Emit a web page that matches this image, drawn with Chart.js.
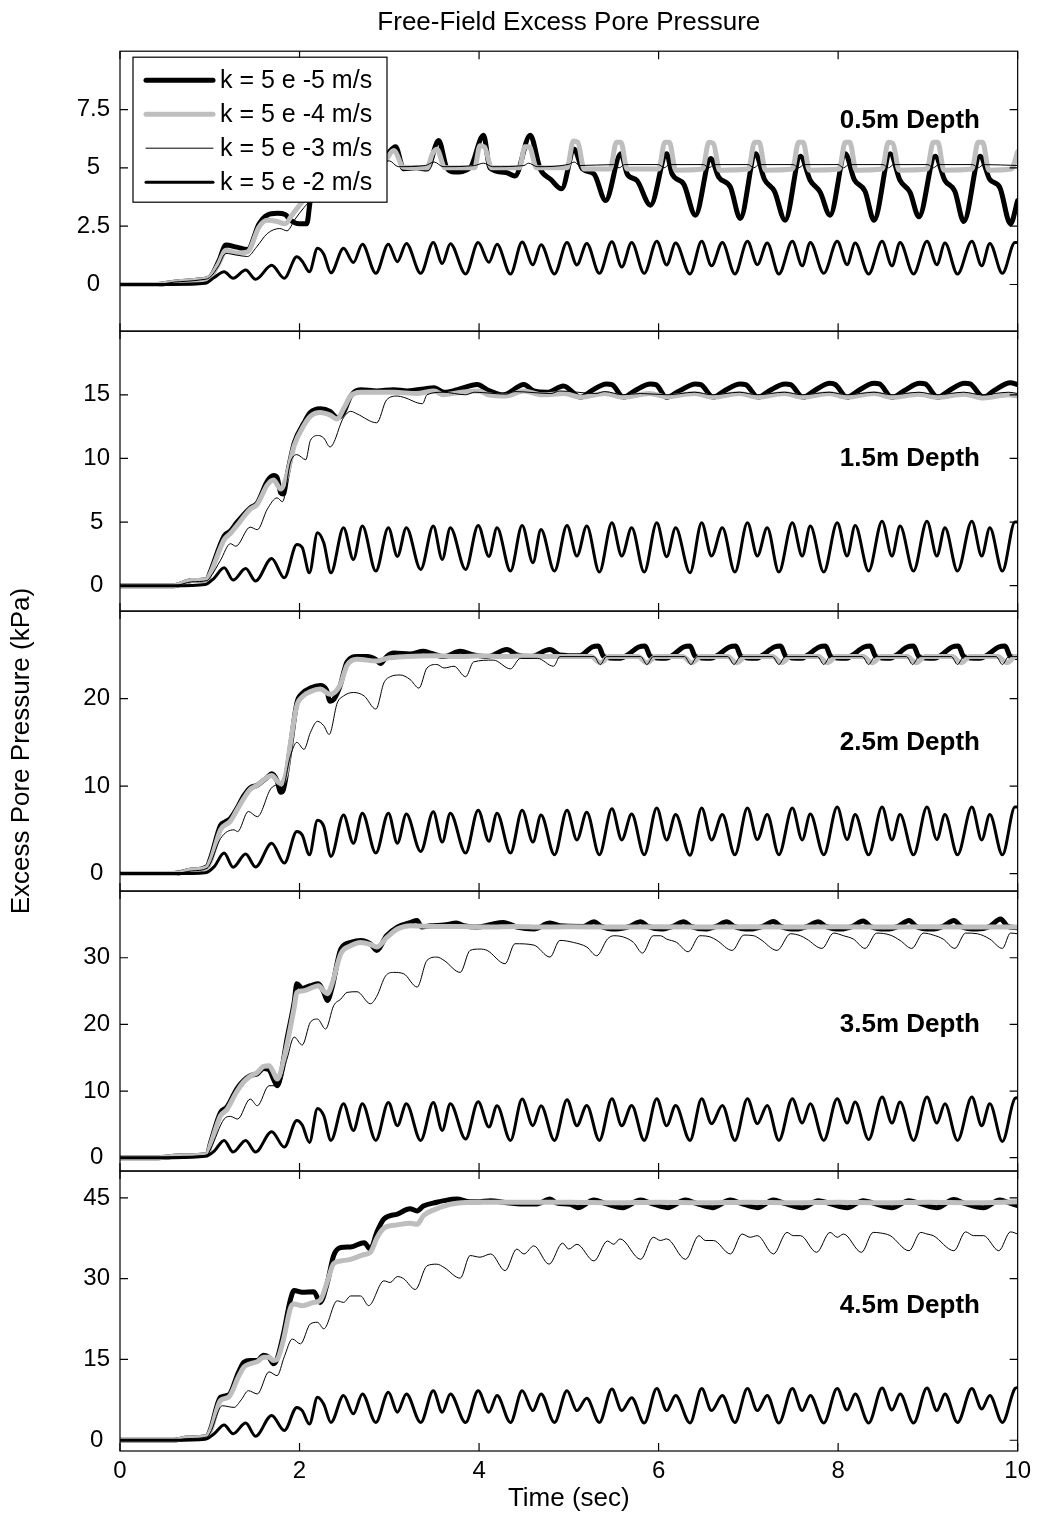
<!DOCTYPE html>
<html>
<head>
<meta charset="utf-8">
<title>Free-Field Excess Pore Pressure</title>
<script src="https://cdn.jsdelivr.net/npm/chart.js@4.4.1/dist/chart.umd.min.js"></script>
<style>
  html, body { margin: 0; padding: 0; background: #fff; }
  canvas { display: block; }
</style>
</head>
<body>
<canvas id="poreChart" width="1037" height="1521"></canvas>
<script>
// ---- data (time in s, pressure in kPa) ----

const depthLabels = ["0.5m Depth", "1.5m Depth", "2.5m Depth", "3.5m Depth", "4.5m Depth"];
const depthLabelTime = 8.8;
const depthLabelLevel = [7, 10, 15, 20, 25];

const yRanges = [[-2, 10], [-2, 20], [-2, 30], [-2, 40], [-2, 50]];
const yTicks = [[0, 2.5, 5, 7.5], [0, 5, 10, 15], [0, 10, 20], [0, 10, 20, 30], [0, 15, 30, 45]];
const xTicks = [0, 2, 4, 6, 8, 10];

const seriesLabels = ["k = 5 e -5 m/s", "k = 5 e -4 m/s", "k = 5 e -3 m/s", "k = 5 e -2 m/s"];

// time samples shared by the k = 5e-2 traces
const timeK2 = [
  0, 0.6, 0.95, 1.05, 1.16, 1.26, 1.40, 1.51, 1.69, 1.83, 1.97, 2.03, 2.11, 2.20, 2.27, 2.35,
  2.49, 2.60, 2.70, 2.85,
  2.99, 3.09, 3.19, 3.35,
  3.49, 3.59, 3.68, 3.85,
  3.99, 4.11, 4.20, 4.35,
  4.48, 4.60, 4.69, 4.84,
  4.98, 5.09, 5.20, 5.34,
  5.48, 5.59, 5.70, 5.84,
  5.98, 6.09, 6.19, 6.35,
  6.48, 6.59, 6.71, 6.85,
  6.99, 7.10, 7.21, 7.34,
  7.49, 7.60, 7.69, 7.84,
  7.99, 8.10, 8.19, 8.34,
  8.49, 8.60, 8.69, 8.84,
  8.99, 9.10, 9.19, 9.33,
  9.49, 9.60, 9.69, 9.83,
  9.97, 10.0
];

const k2_05 = [
  0, 0, 0.05, 0.3, 0.55, 0.27, 0.62, 0.22, 0.82, 0.27, 1.19, 1.0, 0.55, 1.55, 1.3, 0.5,
  1.55, 0.94, 1.73, 0.48,
  1.73, 0.98, 1.76, 0.48,
  1.8, 0.9, 1.75, 0.45,
  1.8, 0.95, 1.72, 0.45,
  1.82, 0.85, 1.7, 0.45,
  1.8, 0.84, 1.76, 0.48,
  1.83, 0.75, 1.8, 0.48,
  1.85, 0.84, 1.78, 0.45,
  1.85, 0.8, 1.8, 0.45,
  1.85, 0.85, 1.78, 0.45,
  1.85, 0.8, 1.8, 0.48,
  1.85, 0.85, 1.78, 0.45,
  1.85, 0.8, 1.8, 0.45,
  1.85, 0.85, 1.78, 0.45,
  1.85, 0.8, 1.76, 0.48,
  1.8, 1.8
];

const k2_15 = [
  0, 0, 0.1, 0.6, 1.41, 0.44, 1.35, 0.36, 2.14, 0.62, 3.24, 3.0, 1.01, 4.16, 3.37, 1.01,
  4.55, 2.06, 4.68, 1.15,
  4.55, 2.3, 4.55, 1.28,
  4.68, 2.06, 4.55, 1.28,
  4.73, 2.3, 4.55, 1.15,
  4.73, 1.8, 4.42, 1.15,
  4.73, 2.33, 4.68, 1.07,
  4.94, 2.33, 4.55, 1.07,
  4.94, 2.28, 4.55, 1.02,
  4.94, 2.33, 4.55, 1.07,
  4.94, 2.33, 4.55, 1.07,
  4.94, 2.33, 4.68, 1.07,
  4.94, 2.33, 4.73, 1.15,
  5.07, 2.33, 4.68, 1.15,
  5.07, 2.33, 4.55, 1.15,
  5.07, 2.33, 4.55, 1.15,
  5.0, 5.0
];

const k2_25 = [
  0, 0, 0.1, 0.8, 2.34, 0.72, 2.23, 0.75, 3.47, 1.2, 4.8, 4.4, 2.15, 6.1, 5.4, 1.96,
  6.7, 3.47, 6.9, 2.34,
  6.9, 3.47, 6.8, 2.53,
  7.06, 3.6, 6.9, 2.34,
  7.25, 3.7, 6.9, 2.34,
  7.25, 3.6, 6.7, 2.15,
  7.25, 3.85, 7.0, 2.15,
  7.4, 3.85, 6.8, 2.15,
  7.5, 3.85, 6.75, 2.1,
  7.5, 3.85, 6.75, 2.15,
  7.5, 3.9, 6.75, 2.15,
  7.5, 3.85, 6.8, 2.15,
  7.6, 3.9, 6.75, 2.15,
  7.6, 3.85, 6.75, 2.15,
  7.6, 3.9, 6.75, 2.15,
  7.6, 3.85, 6.75, 2.15,
  7.6, 7.6
];

const k2_35 = [
  0, 0, 0.2, 1.0, 2.6, 0.85, 2.6, 0.85, 3.9, 1.6, 5.6, 4.9, 2.3, 7.4, 6.3, 2.6,
  8.1, 4.1, 8.1, 2.6,
  8.3, 4.8, 8.1, 2.6,
  8.3, 4.1, 8.1, 2.8,
  8.4, 4.6, 7.8, 2.6,
  8.8, 4.8, 7.8, 2.6,
  8.7, 4.8, 7.85, 2.6,
  8.84, 4.8, 7.84, 2.6,
  8.84, 4.8, 7.84, 2.6,
  8.84, 5.1, 7.84, 2.6,
  8.84, 5.1, 7.84, 2.6,
  8.84, 5.2, 8.1, 2.6,
  8.84, 5.2, 8.34, 2.75,
  9.1, 5.2, 8.34, 2.6,
  9.1, 5.2, 8.1, 2.6,
  9.1, 4.8, 8.1, 2.45,
  8.9, 9.0
];

const k2_45 = [
  0, 0, 0.2, 1.2, 2.85, 1.2, 3.2, 0.75, 4.6, 1.8, 6.1, 5.5, 3.0, 8.0, 6.7, 3.3,
  8.3, 4.9, 8.6, 3.3,
  8.9, 5.2, 8.6, 3.3,
  9.2, 5.2, 8.6, 3.3,
  9.2, 5.2, 8.3, 3.3,
  9.2, 5.5, 8.6, 3.3,
  9.2, 5.5, 7.8, 3.3,
  9.5, 5.5, 7.9, 3.2,
  9.6, 5.5, 8.3, 3.2,
  9.6, 5.5, 8.3, 3.3,
  9.6, 5.5, 8.3, 3.2,
  9.6, 5.5, 8.3, 3.2,
  9.6, 5.6, 8.6, 3.2,
  9.7, 5.6, 8.6, 3.2,
  9.7, 5.5, 8.6, 3.3,
  9.6, 5.8, 8.3, 3.3,
  9.6, 9.8
];

// [time, pressure] pairs for the other permeabilities
const k5_05 = [[0,0],[0.4,0],[0.6,0.1],[0.9,0.2],[1.0,0.3],[1.1,1.0],[1.18,1.69],[1.3,1.6],[1.42,1.5],[1.55,2.6],[1.64,2.97],[1.75,3.05],[1.84,3.0],[1.9,2.75],[2.0,2.6],[2.08,2.6],[2.12,3.6],[2.2,4.8],[2.35,5.3],[2.6,5.1],[2.85,5.0],[2.98,5.6],[3.07,5.9],[3.16,4.96],[3.3,5.0],[3.42,4.95],[3.55,6.17],[3.64,5.0],[3.73,4.82],[3.9,5.0],[4.05,6.4],[4.12,5.0],[4.3,4.8],[4.4,4.65],[4.57,6.4],[4.68,4.96],[4.8,4.5],[4.92,4.1],[5.06,5.8],[5.15,4.96],[5.28,4.74],[5.41,3.6],
  [5.58,5.6],[5.65,4.74],[5.76,4.45],[5.91,3.4],
  [6.09,5.6],[6.15,4.74],[6.28,4.3],[6.41,2.97],
  [6.58,5.4],[6.67,4.6],[6.80,4.17],[6.91,2.83],
  [7.08,5.6],[7.18,4.5],[7.29,4.0],[7.41,2.75],
  [7.58,5.5],[7.69,4.46],[7.80,3.96],[7.91,2.97],
  [8.08,5.6],[8.18,4.5],[8.30,4.0],[8.40,2.75],
  [8.58,5.6],[8.69,4.46],[8.80,3.96],[8.90,2.9],
  [9.08,5.5],[9.19,4.46],[9.30,4.0],[9.40,2.7],
  [9.58,5.5],[9.69,4.5],[9.80,4.17],[9.92,2.6],
  [10.0,3.6]];

const k4_05 = [[0,0],[0.4,0],[0.6,0.1],[0.9,0.2],[1.0,0.3],[1.1,0.9],[1.18,1.47],[1.3,1.35],[1.42,1.4],[1.55,2.47],[1.64,2.75],[1.75,2.7],[1.84,2.6],[1.92,3.0],[2.0,3.4],[2.08,3.8],[2.2,4.5],[2.4,5.0],[2.7,5.1],[2.95,5.3],[3.05,5.74],[3.16,5.03],[3.42,5.0],[3.48,5.6],[3.53,5.8],[3.62,5.0],[3.95,5.0],[4.01,5.95],[4.06,5.9],[4.14,5.0],[4.45,5.0],[4.51,5.9],[4.56,5.9],[4.64,5.0],
  [4.98,5.0],[5.05,6.15],[5.1,6.1],[5.17,4.95],[5.46,4.95],[5.53,6.1],[5.58,6.1],[5.65,4.95],[6.0,4.95],[6.07,6.1],[6.12,6.1],[6.19,4.9],[6.49,4.95],[6.56,6.1],[6.61,6.05],[6.68,4.9],[7.0,4.95],[7.07,6.1],[7.12,6.1],[7.19,4.9],[7.49,4.95],[7.56,6.1],[7.61,6.1],[7.68,4.9],[8.01,4.95],[8.08,6.1],[8.13,6.1],[8.2,4.9],[8.49,4.95],[8.56,6.1],[8.61,6.05],[8.68,4.9],[8.99,4.95],[9.06,6.1],[9.11,6.1],[9.18,4.9],[9.49,4.95],[9.56,6.1],[9.61,6.1],[9.68,4.9],[9.93,4.95],[10.0,5.7]];

const k3_05 = [[0,0],[0.4,0],[0.6,0.1],[0.9,0.2],[1.0,0.3],[1.1,0.8],[1.18,1.33],[1.3,1.26],[1.42,1.2],[1.52,1.6],[1.64,2.18],[1.78,2.4],[1.86,2.3],[1.95,2.8],[2.05,3.3],[2.12,3.6],[2.3,4.4],[2.5,4.8],[2.8,5.0],[3.0,5.3],[3.1,5.05],[3.4,5.1],[3.5,5.25],[3.6,5.05],[3.95,5.1],[4.05,5.2],[4.15,5.05],[4.5,5.1],[4.55,5.2],[4.65,5.05],[5.0,5.15],[5.06,5.25],[5.12,5.1],[5.5,5.14],[5.56,5.0],[5.62,5.14],[6.0,5.14],[6.06,5.0],[6.12,5.14],[6.5,5.14],[6.56,5.0],[6.62,5.14],[7.0,5.14],[7.06,5.0],[7.12,5.14],[7.5,5.14],[7.56,5.0],[7.62,5.14],[8.0,5.14],[8.06,5.0],[8.12,5.14],[8.5,5.14],[8.56,5.0],[8.62,5.14],[9.0,5.14],[9.06,5.0],[9.12,5.14],[9.5,5.14],[9.56,5.0],[9.62,5.14],[10.0,5.1]];

const k5_15 = [[0,0],[0.6,0],[0.8,0.4],[0.97,0.5],[1.01,1.15],[1.16,3.9],[1.23,4.3],[1.3,4.95],[1.45,6.1],[1.53,6.5],[1.64,8.2],[1.71,8.65],[1.75,8.5],[1.79,7.3],[1.82,7.2],[1.86,8.6],[1.94,11.2],[2.05,12.8],[2.12,13.6],[2.23,13.9],[2.34,13.7],[2.42,13.2],[2.49,13.6],[2.57,14.9],[2.68,15.4],[2.86,15.3],[3.05,15.4],[3.2,15.3],[3.42,15.5],[3.5,15.55],[3.61,15.2],[3.76,15.4],[3.98,15.8],[4.09,15.4],[4.27,15.0],[4.5,15.8],[4.61,15.3],[4.76,15.2],[4.94,15.7],
  [5.13,14.8],[5.25,15.3],[5.42,15.85],[5.48,15.8],[5.61,14.8],[5.73,15.3],[5.91,15.85],[5.97,15.8],[6.09,14.8],[6.23,15.3],[6.41,15.85],[6.47,15.8],[6.61,14.8],[6.73,15.3],[6.91,15.85],[6.97,15.8],[7.11,14.8],[7.23,15.3],[7.41,15.85],[7.47,15.8],[7.61,14.8],[7.73,15.3],[7.91,15.9],[7.97,15.8],[8.10,14.8],[8.22,15.3],[8.40,15.9],[8.46,15.85],[8.60,14.8],[8.73,15.3],[8.91,15.9],[8.97,15.85],[9.11,14.8],[9.23,15.3],[9.41,15.9],[9.47,15.85],[9.62,14.8],[9.74,15.35],[9.92,15.95],[10.0,15.8]];

const k4_15 = [[0,0],[0.6,0],[0.8,0.4],[0.97,0.5],[1.01,1.0],[1.16,3.6],[1.23,4.1],[1.3,4.7],[1.45,6.0],[1.53,6.4],[1.64,7.9],[1.71,8.3],[1.79,7.6],[1.86,8.7],[1.94,11.0],[2.05,12.6],[2.12,13.3],[2.23,13.6],[2.34,13.4],[2.42,13.1],[2.49,13.9],[2.57,14.9],[2.68,15.2],[2.86,15.2],[3.05,15.2],[3.3,15.1],[3.5,15.3],[3.6,15.0],[3.8,15.2],[4.0,15.3],[4.1,15.0],[4.3,14.9],[4.5,15.3],[4.7,15.0],[4.95,15.1],[5.13,14.8],[5.4,15.1],[5.61,14.8],[5.9,15.1],[6.09,14.85],[6.4,15.1],[6.61,14.8],[6.9,15.1],[7.11,14.8],[7.4,15.1],[7.61,14.8],[7.9,15.1],[8.10,14.8],[8.4,15.1],[8.60,14.8],[8.9,15.05],[9.11,14.8],[9.4,15.05],[9.62,14.75],[9.9,15.0],[10.0,14.9]];

const k3_15 = [[0,0],[0.6,0],[0.8,0.3],[0.97,0.4],[1.01,0.7],[1.12,2.0],[1.23,3.3],[1.29,3.1],[1.45,4.6],[1.53,4.4],[1.64,6.0],[1.75,6.9],[1.81,6.6],[1.9,9.7],[1.97,10.3],[2.07,9.9],[2.12,11.4],[2.21,11.8],[2.27,11.6],[2.34,10.9],[2.49,13.2],[2.57,13.7],[2.64,13.5],[2.86,12.8],[2.97,14.6],[3.09,14.9],[3.16,14.8],[3.37,14.3],[3.42,15.0],[3.6,15.2],[3.85,15.0],[3.95,15.2],[4.3,15.05],[4.4,15.25],[4.8,15.1],[4.9,15.3],[5.3,15.1],[5.4,15.25],[5.6,15.0],[5.8,15.1],[6.1,15.0],[6.4,15.2],[6.6,15.0],[6.9,15.2],[7.1,15.0],[7.4,15.2],[7.6,15.0],[7.9,15.2],[8.1,15.0],[8.4,15.2],[8.6,15.0],[8.9,15.2],[9.1,15.0],[9.4,15.2],[9.6,15.0],[9.9,15.2],[10.0,15.1]];

const k5_25 = [[0,0],[0.6,0],[0.8,0.4],[0.97,0.8],[1.01,1.8],[1.12,5.5],[1.17,5.9],[1.23,6.3],[1.3,7.4],[1.38,8.9],[1.45,9.8],[1.53,10.1],[1.64,11.0],[1.69,11.4],[1.75,10.6],[1.79,9.3],[1.82,9.6],[1.9,14.6],[1.97,19.5],[2.03,20.6],[2.12,21.2],[2.23,21.5],[2.3,21.0],[2.34,19.7],[2.38,19.9],[2.45,21.4],[2.53,24.2],[2.64,24.8],[2.75,24.8],[2.86,24.4],[2.9,24.0],[2.97,24.8],[3.05,25.2],[3.23,25.1],[3.38,25.4],[3.46,25.2],[3.61,24.8],[3.79,25.4],[3.94,25.0],[4.09,24.8],[4.31,25.6],[4.42,25.0],[4.57,24.8],[4.79,25.6],[4.9,25.0],
  [5.12,24.9],[5.26,25.9],[5.33,26.0],[5.39,24.8],[5.56,24.6],[5.64,24.9],[5.78,25.9],[5.85,26.0],[5.91,24.8],[6.08,24.6],[6.15,24.9],[6.28,25.9],[6.35,26.0],[6.41,24.8],[6.58,24.6],[6.65,24.9],[6.79,25.9],[6.86,26.0],[6.92,24.8],[7.09,24.6],[7.15,24.9],[7.29,25.9],[7.36,26.0],[7.42,24.8],[7.59,24.6],[7.65,24.9],[7.79,25.9],[7.86,26.0],[7.92,24.8],[8.09,24.6],[8.15,24.9],[8.29,25.9],[8.36,26.0],[8.42,24.8],[8.58,24.6],[8.64,24.9],[8.77,25.9],[8.84,26.0],[8.9,24.8],[9.07,24.6],[9.14,24.9],[9.27,25.9],[9.34,26.0],[9.40,24.8],[9.58,24.6],[9.65,24.9],[9.79,25.9],[9.86,26.0],[9.92,24.8],[10.0,24.7]];

const k4_25 = [[0,0],[0.6,0],[0.8,0.4],[0.97,0.7],[1.01,1.5],[1.12,5.0],[1.23,6.0],[1.3,7.2],[1.38,8.6],[1.45,9.6],[1.53,10.1],[1.64,11.0],[1.69,11.2],[1.75,10.6],[1.79,10.2],[1.85,11.5],[1.9,15.0],[1.97,19.2],[2.03,20.2],[2.12,20.8],[2.23,21.1],[2.34,20.5],[2.45,21.5],[2.53,23.8],[2.64,24.5],[2.86,24.3],[2.97,24.6],[3.2,24.8],[3.5,24.9],[3.8,24.8],[4.0,24.9],[4.3,24.8],[4.5,24.9],[4.8,24.8],
  [5.25,24.8],[5.35,24.1],[5.45,24.8],[5.77,24.8],[5.87,24.1],[5.97,24.8],[6.27,24.8],[6.37,24.1],[6.47,24.8],[6.77,24.8],[6.87,24.1],[6.97,24.8],[7.27,24.8],[7.37,24.1],[7.47,24.8],[7.78,24.8],[7.88,24.1],[7.98,24.8],[8.28,24.8],[8.38,24.1],[8.48,24.8],[8.77,24.8],[8.87,24.1],[8.97,24.8],[9.27,24.8],[9.37,24.1],[9.47,24.8],[9.78,24.8],[9.88,24.1],[9.98,24.8],[10.0,24.8]];

const k3_25 = [[0,0],[0.6,0],[0.8,0.3],[0.97,0.6],[1.01,1.2],[1.12,4.0],[1.27,5.0],[1.31,4.8],[1.43,7.1],[1.53,6.5],[1.68,9.7],[1.75,10.1],[1.81,9.8],[1.9,13.5],[1.97,15.0],[2.05,14.2],[2.12,16.1],[2.2,17.4],[2.27,16.9],[2.33,15.9],[2.42,19.5],[2.49,20.3],[2.6,20.7],[2.72,20.3],[2.85,18.8],[2.94,21.8],[3.01,22.5],[3.12,22.7],[3.23,22.2],[3.33,21.2],[3.42,23.5],[3.53,23.9],[3.61,23.5],[3.72,23.7],[3.85,22.5],[3.94,24.2],[4.16,24.4],[4.35,23.4],[4.46,24.6],[4.65,24.6],[4.83,23.7],[4.9,24.8],
  [5.28,24.8],[5.35,23.9],[5.42,24.8],[5.8,24.8],[5.87,23.9],[5.94,24.8],[6.29,24.8],[6.36,23.9],[6.43,24.8],[6.77,24.8],[6.84,23.9],[6.91,24.8],[7.27,24.8],[7.34,23.9],[7.41,24.8],[7.77,24.8],[7.84,23.9],[7.91,24.8],[8.27,24.8],[8.34,23.9],[8.41,24.8],[8.76,24.8],[8.83,23.9],[8.9,24.8],[9.26,24.8],[9.33,23.9],[9.40,24.8],[9.76,24.8],[9.83,23.9],[9.9,24.8],[10.0,24.8]];

const k5_35 = [[0,0],[0.4,0],[0.7,0.3],[0.97,0.5],[1.01,2.3],[1.12,6.8],[1.19,7.6],[1.3,10.3],[1.38,11.6],[1.45,12.3],[1.53,12.6],[1.6,13.4],[1.66,13.2],[1.71,11.8],[1.75,10.8],[1.79,12.3],[1.86,17.8],[1.94,23.3],[1.97,26.1],[2.03,25.4],[2.12,25.8],[2.21,26.1],[2.27,24.8],[2.31,23.6],[2.36,25.4],[2.46,31.3],[2.57,32.3],[2.68,32.6],[2.79,32.1],[2.86,31.1],[2.97,33.3],[3.09,34.6],[3.24,35.3],[3.31,35.6],[3.36,34.6],[3.46,34.8],[3.61,34.9],[3.75,35.2],[3.83,34.8],[3.98,34.6],[4.13,35.0],[4.27,35.3],[4.42,34.6],[4.61,34.3],[4.79,35.2],[4.9,34.8],
  [5.16,34.7],[5.28,35.4],[5.36,34.7],[5.53,34.3],[5.68,34.7],[5.8,35.4],[5.88,34.7],[6.03,34.3],[6.16,34.7],[6.28,35.4],[6.36,34.7],[6.52,34.3],[6.64,34.7],[6.76,35.4],[6.84,34.7],[7.02,34.3],[7.16,34.7],[7.28,35.45],[7.36,34.7],[7.53,34.3],[7.66,34.7],[7.78,35.4],[7.86,34.7],[8.03,34.3],[8.16,34.7],[8.28,35.5],[8.36,34.7],[8.54,34.3],[8.67,34.7],[8.79,35.6],[8.87,34.7],[9.04,34.3],[9.17,34.7],[9.29,35.6],[9.37,34.7],[9.55,34.3],[9.69,34.7],[9.81,35.8],[9.89,34.7],[10.0,34.5]];

const k4_35 = [[0,0],[0.4,0],[0.7,0.3],[0.97,0.5],[1.01,2.0],[1.12,6.3],[1.19,7.2],[1.3,9.9],[1.38,11.4],[1.45,12.2],[1.53,12.8],[1.6,13.7],[1.66,13.8],[1.71,12.8],[1.75,11.8],[1.79,12.8],[1.86,17.0],[1.94,22.5],[1.97,24.8],[2.03,25.0],[2.12,25.4],[2.21,25.8],[2.27,25.0],[2.31,24.6],[2.36,26.0],[2.46,30.6],[2.57,31.8],[2.68,32.3],[2.79,32.0],[2.86,31.6],[2.97,33.0],[3.09,34.3],[3.24,34.8],[3.5,34.7],[3.8,34.7],[4.1,34.6],[4.4,34.7],[4.7,34.6],[5.0,34.65],[5.5,34.6],[6.0,34.65],[6.5,34.6],[7.0,34.65],[7.5,34.6],[8.0,34.65],[8.5,34.6],[9.0,34.65],[9.5,34.6],[10.0,34.6]];

const k3_35 = [[0,0],[0.4,0],[0.7,0.2],[0.97,0.4],[1.01,1.3],[1.16,5.8],[1.23,6.2],[1.31,5.8],[1.45,8.8],[1.53,7.8],[1.66,10.8],[1.77,10.8],[1.86,14.8],[1.94,18.1],[2.03,16.9],[2.12,20.3],[2.2,20.8],[2.29,19.3],[2.38,22.8],[2.46,23.8],[2.53,24.8],[2.64,24.9],[2.79,23.1],[2.86,24.2],[2.96,27.3],[3.05,27.8],[3.16,27.6],[3.31,25.6],[3.42,29.6],[3.53,30.1],[3.61,29.6],[3.79,27.8],[3.9,31.1],[4.01,31.3],[4.09,31.1],[4.29,29.1],[4.4,32.1],[4.61,31.9],[4.79,30.1],[4.9,32.6],
  [5.05,32.3],[5.2,31.6],[5.31,30.3],[5.43,32.8],[5.5,33.3],[5.61,33.1],[5.72,32.3],[5.82,30.7],[5.94,33.3],[6.02,33.3],[6.09,32.8],[6.20,32.3],[6.33,30.9],[6.46,33.3],[6.58,33.1],[6.65,32.6],[6.82,31.1],[6.95,33.4],[7.06,33.3],[7.13,32.8],[7.32,31.1],[7.47,33.6],[7.58,33.3],[7.65,32.8],[7.82,31.4],[7.95,33.7],[8.06,33.3],[8.17,32.8],[8.3,31.4],[8.43,33.7],[8.58,33.4],[8.69,32.6],[8.82,31.4],[8.95,33.7],[9.06,33.4],[9.17,32.8],[9.30,31.4],[9.42,33.7],[9.55,33.6],[9.69,32.8],[9.83,31.4],[9.92,33.7],[10.0,33.6]];

const k5_45 = [[0,0],[0.6,0],[0.75,0.4],[0.97,0.7],[1.01,2.1],[1.12,8.0],[1.21,8.4],[1.32,12.6],[1.38,14.5],[1.45,14.8],[1.53,14.8],[1.6,15.8],[1.66,15.4],[1.71,14.2],[1.75,15.1],[1.82,19.7],[1.9,26.2],[1.94,27.8],[2.03,27.5],[2.16,27.6],[2.23,25.6],[2.31,29.3],[2.38,34.3],[2.46,35.8],[2.57,35.9],[2.72,36.7],[2.79,35.5],[2.86,38.6],[2.94,41.1],[3.09,42.0],[3.23,43.0],[3.31,42.6],[3.38,43.5],[3.53,44.2],[3.61,44.5],[3.75,44.8],[3.9,44.3],[3.98,44.3],[4.13,44.5],[4.27,44.2],[4.5,43.9],[4.65,43.9],[4.79,44.8],[4.86,44.1],[5.02,43.8],
  [5.1,43.2],[5.28,44.6],[5.4,44.0],[5.6,43.2],[5.8,44.6],[5.92,44.0],[6.1,43.2],[6.3,44.6],[6.42,44.0],[6.6,43.2],[6.8,44.6],[6.92,44.0],[7.1,43.2],[7.28,44.6],[7.4,44.0],[7.6,43.2],[7.78,44.5],[7.9,44.0],[8.1,43.2],[8.28,44.5],[8.4,44.0],[8.6,43.2],[8.79,44.5],[8.91,44.0],[9.1,43.2],[9.29,44.7],[9.41,44.0],[9.62,43.2],[9.8,44.6],[9.92,44.0],[10.0,43.6]];

const k4_45 = [[0,0],[0.6,0],[0.75,0.4],[0.97,0.7],[1.01,1.8],[1.12,7.4],[1.21,8.0],[1.32,11.8],[1.38,13.6],[1.45,14.2],[1.53,14.6],[1.6,15.4],[1.66,15.4],[1.71,14.8],[1.75,15.0],[1.82,18.6],[1.9,24.6],[1.94,25.3],[2.03,25.0],[2.16,25.6],[2.23,26.0],[2.31,29.5],[2.38,32.8],[2.46,33.3],[2.57,33.6],[2.72,34.5],[2.79,34.9],[2.86,37.5],[2.94,39.4],[3.09,40.0],[3.23,40.3],[3.31,40.1],[3.38,41.7],[3.53,43.0],[3.61,43.5],[3.75,44.0],[4.0,44.2],[4.5,44.2],[5.0,44.2],[5.5,44.1],[6.0,44.2],[6.5,44.1],[7.0,44.2],[7.5,44.1],[8.0,44.2],[8.5,44.1],[9.0,44.2],[9.5,44.1],[10.0,44.3]];

const k3_45 = [[0,0],[0.6,0],[0.75,0.3],[0.97,0.6],[1.01,1.5],[1.14,6.4],[1.27,6.1],[1.35,7.5],[1.43,9.2],[1.53,8.6],[1.66,12.7],[1.75,12.0],[1.83,15.5],[1.92,18.8],[2.01,17.9],[2.12,21.6],[2.2,21.9],[2.27,20.7],[2.42,25.9],[2.49,25.6],[2.57,26.8],[2.68,26.8],[2.77,25.0],[2.94,29.6],[3.01,29.3],[3.09,30.4],[3.16,30.0],[3.29,28.0],[3.42,32.4],[3.53,32.7],[3.61,32.1],[3.79,30.1],[3.9,34.3],[4.01,34.0],[4.13,34.6],[4.29,31.5],[4.42,35.5],[4.5,34.6],[4.61,36.1],[4.78,32.7],[4.93,36.6],[5.0,35.5],[5.09,36.4],[5.28,33.3],[5.43,37.0],[5.5,36.4],[5.57,37.4],[5.8,33.6],[5.94,37.7],[6.02,37.1],[6.09,37.4],[6.30,33.6],[6.45,38.0],[6.52,37.1],[6.61,37.1],[6.8,34.6],[6.93,38.3],[7.02,37.7],[7.1,38.0],[7.28,34.6],[7.43,38.6],[7.5,38.0],[7.58,38.0],[7.76,34.9],[7.91,38.6],[7.99,37.7],[8.06,38.3],[8.26,34.9],[8.39,38.6],[8.47,38.5],[8.58,38.0],[8.79,35.2],[8.92,38.6],[8.99,38.3],[9.06,38.0],[9.29,35.2],[9.42,38.7],[9.51,38.0],[9.62,38.0],[9.79,35.2],[9.92,38.7],[10.0,38.3]];

// ---- build the chart ----

Chart.defaults.font.family = "'Liberation Sans', Arial, Helvetica, sans-serif";
Chart.defaults.color = "#000";

const pairs = arr => arr.map(([x, y]) => ({ x, y }));
const zip = (ts, vs) => ts.map((t, i) => ({ x: t, y: vs[i] }));

const panelSeries = [
    [pairs(k5_05), pairs(k4_05), pairs(k3_05), zip(timeK2, k2_05)],
    [pairs(k5_15), pairs(k4_15), pairs(k3_15), zip(timeK2, k2_15)],
    [pairs(k5_25), pairs(k4_25), pairs(k3_25), zip(timeK2, k2_25)],
    [pairs(k5_35), pairs(k4_35), pairs(k3_35), zip(timeK2, k2_35)],
    [pairs(k5_45), pairs(k4_45), pairs(k3_45), zip(timeK2, k2_45)],
];

// thick black, thick grey, hairline black, medium black
const lineColors = ["#000000", "#bebebe", "#000000", "#000000"];
const lineWidths = [5, 5, 1, 3];
const drawOrder = [4, 3, 2, 1];

const datasets = [];
panelSeries.forEach((series, p) => {
    series.forEach((data, s) => {
        datasets.push({
            label: seriesLabels[s],
            data: data,
            yAxisID: "y" + (p + 1),
            borderColor: lineColors[s],
            borderWidth: lineWidths[s],
            order: drawOrder[s],
            pointRadius: 0,
            fill: false,
            cubicInterpolationMode: "monotone",
            borderJoinStyle: "round",
            borderCapStyle: "round",
        });
    });
});

const scales = {
    x: {
        type: "linear",
        min: 0,
        max: 10,
        grid: { display: false, drawTicks: false },
        border: { display: false },
        ticks: { stepSize: 2, padding: 6, font: { size: 24 } },
        title: {
            display: true,
            text: "Time (sec)",
            font: { size: 26 },
            padding: { top: 0, bottom: 7 },
        },
        afterFit: (s) => { s.height = 70; },
    },
};

yRanges.forEach((r, i) => {
    scales["y" + (i + 1)] = {
        type: "linear",
        position: "left",
        stack: "depth",
        stackWeight: 1,
        weight: 5 - i,
        min: r[0],
        max: r[1],
        grid: { display: false, drawTicks: false },
        border: { display: false },
        ticks: {
            font: { size: 24 },
            padding: 10,
            crossAlign: "center",
            callback: (v) => String(v),
        },
        afterBuildTicks: (s) => { s.ticks = yTicks[i].map((v) => ({ value: v })); },
        afterFit: (s) => { s.width = 120; },
        title: {
            display: i === 2,
            text: "Excess Pore Pressure (kPa)",
            font: { size: 26 },
            padding: { top: 6, bottom: 0 },
        },
    };
});

// panel frames, inward ticks, depth labels and the legend box
const panelDecor = {
    id: "panelDecor",
    afterDatasetsDraw(chart) {
        const { ctx, chartArea } = chart;
        const { left, right } = chartArea;
        const xs = chart.scales.x;
        const tickLen = 8;
        ctx.save();
        ctx.strokeStyle = "#000";
        ctx.lineWidth = 1.2;

        yRanges.forEach((r, i) => {
            const s = chart.scales["y" + (i + 1)];
            ctx.strokeRect(left, s.top, right - left, s.bottom - s.top);
            ctx.beginPath();
            s.ticks.forEach((t) => {
                const y = s.getPixelForValue(t.value);
                ctx.moveTo(left, y); ctx.lineTo(left + tickLen, y);
                ctx.moveTo(right, y); ctx.lineTo(right - tickLen, y);
            });
            xTicks.forEach((v) => {
                const x = xs.getPixelForValue(v);
                ctx.moveTo(x, s.top); ctx.lineTo(x, s.top + tickLen);
                ctx.moveTo(x, s.bottom); ctx.lineTo(x, s.bottom - tickLen);
            });
            ctx.stroke();

            ctx.fillStyle = "#000";
            ctx.font = "bold 26px 'Liberation Sans', Arial, sans-serif";
            ctx.textAlign = "center";
            ctx.textBaseline = "middle";
            ctx.fillText(depthLabels[i], xs.getPixelForValue(depthLabelTime), s.getPixelForValue(depthLabelLevel[i]));
        });

        // legend in the top panel
        const top = chart.scales.y1.top;
        const bx = left + 13, by = top + 6, bw = 254, bh = 145;
        ctx.fillStyle = "#fff";
        ctx.fillRect(bx, by, bw, bh);
        ctx.lineWidth = 1.2;
        ctx.strokeRect(bx, by, bw, bh);
        ctx.font = "25px 'Liberation Sans', Arial, sans-serif";
        ctx.textAlign = "left";
        ctx.textBaseline = "middle";
        chart.data.datasets.slice(0, 4).forEach((ds, k) => {
            const y = by + 23 + k * 34;
            ctx.beginPath();
            ctx.strokeStyle = ds.borderColor;
            ctx.lineWidth = ds.borderWidth;
            ctx.lineCap = "round";
            ctx.moveTo(bx + 13, y);
            ctx.lineTo(bx + 80, y);
            ctx.stroke();
            ctx.fillStyle = "#000";
            ctx.fillText(ds.label, bx + 87, y + 1);
        });
        ctx.restore();
    },
};

new Chart(document.getElementById("poreChart"), {
    type: "line",
    data: { datasets },
    options: {
        responsive: false,
        animation: false,
        events: [],
        layout: { padding: { left: 0, right: 19, top: 0, bottom: 0 } },
        plugins: {
            legend: { display: false },
            tooltip: { enabled: false },
            title: {
                display: true,
                text: "Free-Field Excess Pore Pressure",
                fullSize: false,
                font: { size: 26, weight: "normal" },
                padding: { top: 7, bottom: 13 },
            },
        },
        scales,
    },
    plugins: [panelDecor],
});
</script>
</body>
</html>
